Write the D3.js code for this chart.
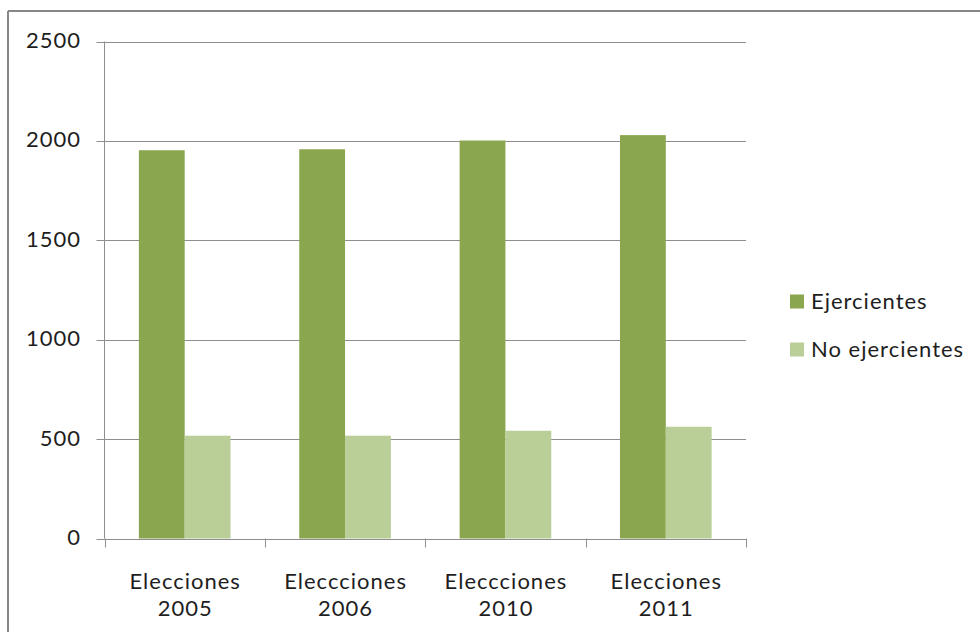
<!DOCTYPE html>
<html><head><meta charset="utf-8">
<script src="https://cdn.jsdelivr.net/npm/d3@7"></script>
<style>
html,body{margin:0;padding:0;background:#fff;}
svg{display:block;}
text{font-family:Lato, "Open Sans", sans-serif;fill:#1e1e1e;letter-spacing:1px;}
</style></head>
<body>
<svg id="c" width="980" height="632"></svg>
<script>
const categories = [["Elecciones","2005"],["Eleccciones","2006"],["Eleccciones","2010"],["Elecciones","2011"]];
const seriesNames = ["Ejercientes","No ejercientes"];
const ejercientes = [1953, 1958, 2002, 2029];
const noEjercientes = [517, 517, 542, 562];
const yTicks = [0, 500, 1000, 1500, 2000, 2500];
const colors = ["#8aa64f", "#bacf97"];

(function(){
const svg = d3.select("#c");
// outer frame (top and left visible)
svg.append("line").attr("x1",8).attr("x2",980).attr("y1",11).attr("y2",11).attr("stroke","#878787").attr("stroke-width",2);
svg.append("line").attr("x1",8).attr("x2",8).attr("y1",11).attr("y2",632).attr("stroke","#878787").attr("stroke-width",2);

const pL = 104.5, pR = 746, pT = 41.5, pB = 538.5;
const x = d3.scaleBand().domain(d3.range(categories.length)).range([pL, pR]).paddingInner(0).paddingOuter(0);
const y = d3.scaleLinear().domain([0, 2500]).range([pB, pT]);
const inner = d3.scaleBand().domain(seriesNames).range([0, x.bandwidth()]).paddingInner(0).paddingOuter(0.75);

// gridlines
svg.append("g").selectAll("line").data(yTicks).join("line")
  .attr("x1", pL - 8).attr("x2", pR)
  .attr("y1", d => Math.round(y(d)) + 0.5).attr("y2", d => Math.round(y(d)) + 0.5)
  .attr("stroke", "#8e8e8e").attr("stroke-width", 1);

// y labels
svg.append("g").selectAll("text").data(yTicks).join("text")
  .attr("x", 81).attr("y", d => y(d) - 1.5).attr("dy", "0.36em")
  .attr("text-anchor", "end").style("font-size", "22px").text(d => d);

// bars
const data = categories.map((c, i) => ({i, vals: [ejercientes[i], noEjercientes[i]]}));
const g = svg.append("g");
data.forEach(d => {
  seriesNames.forEach((s, k) => {
    g.append("rect")
      .attr("x", x(d.i) + inner(s))
      .attr("y", y(d.vals[k]))
      .attr("width", inner.bandwidth())
      .attr("height", pB - y(d.vals[k]))
      .attr("fill", colors[k]);
  });
});

// axes lines
svg.append("line").attr("x1", pL).attr("x2", pL).attr("y1", pT).attr("y2", pB).attr("stroke", "#8e8e8e");
svg.append("line").attr("x1", pL).attr("x2", pR).attr("y1", Math.round(pB)+0.5).attr("y2", Math.round(pB)+0.5).attr("stroke", "#8e8e8e");
// x ticks
const xt = d3.range(categories.length + 1).map(i => i < categories.length ? x(i) : pR);
svg.append("g").selectAll("line").data(xt).join("line")
  .attr("x1", d => Math.round(d) + 0.5).attr("x2", d => Math.round(d) + 0.5)
  .attr("y1", pB).attr("y2", pB + 9).attr("stroke", "#8e8e8e");

// x labels
const xl = svg.append("g");
categories.forEach((c, i) => {
  const cx = x(i) + x.bandwidth() / 2 + 0.5;
  xl.append("text").attr("x", cx).attr("y", 589).attr("text-anchor", "middle").style("font-size", "22px").text(c[0]);
  xl.append("text").attr("x", cx).attr("y", 616).attr("text-anchor", "middle").style("font-size", "22px").text(c[1]);
});

// legend
const lg = svg.append("g");
seriesNames.forEach((s, k) => {
  const cy = 301.5 + k * 48;
  lg.append("rect").attr("x", 790).attr("y", cy - 7).attr("width", 14).attr("height", 14).attr("fill", colors[k]);
  lg.append("text").attr("x", 811).attr("y", cy).attr("dy", "0.36em").style("font-size", "22px").text(s);
});
})();
</script>
</body></html>
